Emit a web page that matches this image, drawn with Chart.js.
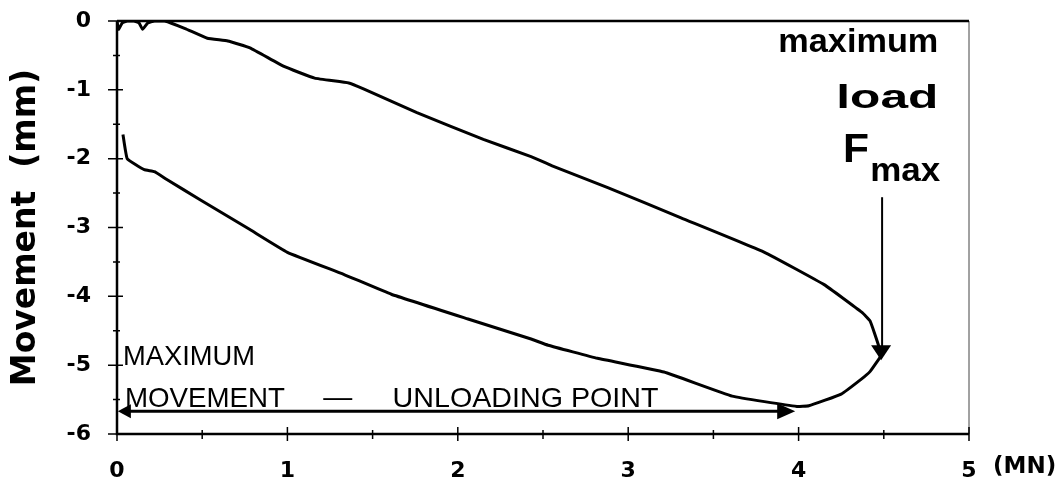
<!DOCTYPE html>
<html>
<head>
<meta charset="utf-8">
<script src="https://cdn.jsdelivr.net/npm/chart.js@4"></script>
<style>
  body { margin: 0; background: #fff; }
  canvas { display: block; }
</style>
</head>
<body>
<canvas id="loadChart" width="1063" height="480"></canvas>
<script>
// Data: load (MN) vs movement (mm)
const loadX = [0, 0.005, 0.01, 0.03, 0.06, 0.1, 0.13, 0.15, 0.18, 0.22, 0.28, 0.4, 0.53, 0.65, 0.78, 0.98, 1.16, 1.36, 1.45, 1.76, 2.15, 2.43, 2.55, 2.88, 3.31, 3.8, 4.15, 4.37, 4.42, 4.47, 4.48];
const loadY = [0, -0.08, -0.12, -0.03, 0, 0, -0.03, -0.12, -0.03, 0, 0, -0.11, -0.25, -0.29, -0.39, -0.66, -0.83, -0.9, -0.99, -1.33, -1.72, -1.97, -2.1, -2.42, -2.86, -3.36, -3.83, -4.23, -4.36, -4.72, -4.88];

const unloadX = [4.48, 4.42, 4.37, 4.25, 4.06, 3.99, 3.61, 3.21, 2.82, 2.53, 2.43, 2.06, 1.61, 1.33, 1.0, 0.78, 0.49, 0.29, 0.22, 0.16, 0.06, 0.035];
const unloadY = [-4.88, -5.09, -5.2, -5.42, -5.59, -5.6, -5.45, -5.1, -4.9, -4.71, -4.62, -4.33, -3.97, -3.68, -3.36, -3.03, -2.6, -2.3, -2.19, -2.16, -2.0, -1.65];

const xTicks = [0, 1, 2, 3, 4, 5];
const yTicks = [0, -1, -2, -3, -4, -5, -6];
const xMinor = [0.5, 1.5, 2.5, 3.5, 4.5];
const yMinor = [-0.5, -1.5, -2.5, -3.5, -4.5, -5.5];

// where the notes sit, in data units
const fmaxArrow = { x: 4.49, yFrom: -2.56, yTo: -4.93 };
const moveArrow = { y: -5.67, xFrom: 0.005, xTo: 3.98 };

function toPoints(xs, ys) {
  return xs.map((x, i) => ({ x: x, y: ys[i] }));
}

function drawText(ctx, str, x, y, font, align, width) {
  ctx.save();
  ctx.font = font;
  ctx.textBaseline = 'alphabetic';
  ctx.textAlign = 'left';
  const w = ctx.measureText(str).width;
  const sx = width ? width / w : 1;
  const left = align === 'right' ? x - w * sx : x;
  ctx.translate(left, y);
  ctx.scale(sx, 1);
  ctx.fillText(str, 0, 0);
  ctx.restore();
}

function arrowHead(ctx, tipX, tipY, dx, dy, len, half) {
  // dx,dy = unit direction of the arrow
  const bx = tipX - dx * len, by = tipY - dy * len;
  ctx.beginPath();
  ctx.moveTo(tipX, tipY);
  ctx.lineTo(bx - dy * half, by + dx * half);
  ctx.lineTo(bx + dy * half, by - dx * half);
  ctx.closePath();
  ctx.fill();
}

const frameNotes = {
  id: 'frameNotes',
  afterDatasetsDraw(chart) {
    const ctx = chart.ctx;
    const xs = chart.scales.x, ys = chart.scales.y;
    const a = chart.chartArea;
    ctx.save();
    ctx.fillStyle = '#000';

    // frame
    ctx.lineWidth = 1;
    ctx.strokeStyle = '#444';
    ctx.beginPath();
    ctx.moveTo(a.right, a.top);
    ctx.lineTo(a.right, a.bottom);
    ctx.stroke();
    ctx.strokeStyle = '#000';
    ctx.lineWidth = 2.5;
    ctx.beginPath();
    ctx.moveTo(a.left, a.top);
    ctx.lineTo(a.right, a.top);
    ctx.moveTo(a.left, a.top);
    ctx.lineTo(a.left, a.bottom);
    ctx.lineTo(a.right, a.bottom);
    ctx.stroke();

    // tick marks crossing the axes
    ctx.lineWidth = 1.5;
    ctx.beginPath();
    xTicks.forEach(v => {
      const p = xs.getPixelForValue(v);
      ctx.moveTo(p, a.bottom - 7); ctx.lineTo(p, a.bottom + 7);
    });
    xMinor.forEach(v => {
      const p = xs.getPixelForValue(v);
      ctx.moveTo(p, a.bottom - 4); ctx.lineTo(p, a.bottom + 5);
    });
    yTicks.forEach(v => {
      const p = ys.getPixelForValue(v);
      ctx.moveTo(a.left - 9, p); ctx.lineTo(a.left + 6, p);
    });
    yMinor.forEach(v => {
      const p = ys.getPixelForValue(v);
      ctx.moveTo(a.left - 4, p); ctx.lineTo(a.left + 3, p);
    });
    ctx.stroke();

    // F max arrow
    ctx.lineWidth = 2;
    const fx = xs.getPixelForValue(fmaxArrow.x);
    const fy1 = ys.getPixelForValue(fmaxArrow.yFrom);
    const fy2 = ys.getPixelForValue(fmaxArrow.yTo);
    ctx.beginPath();
    ctx.moveTo(fx, fy1);
    ctx.lineTo(fx, fy2 - 10);
    ctx.stroke();
    arrowHead(ctx, fx - 1, fy2, 0, 1, 15, 10);

    // maximum movement double arrow
    const my = ys.getPixelForValue(moveArrow.y);
    const mx1 = xs.getPixelForValue(moveArrow.xFrom);
    const mx2 = xs.getPixelForValue(moveArrow.xTo);
    ctx.lineWidth = 3;
    ctx.beginPath();
    ctx.moveTo(mx1 + 8, my);
    ctx.lineTo(mx2 - 10, my);
    ctx.stroke();
    arrowHead(ctx, mx1, my, -1, 0, 13, 7);
    arrowHead(ctx, mx2, my, 1, 0, 18, 8);

    // notes
    const bold = 'bold 34px "Liberation Sans", Arial, sans-serif';
    drawText(ctx, 'maximum', xs.getPixelForValue(4.82), ys.getPixelForValue(-0.45), bold, 'right', 160);
    drawText(ctx, 'load', xs.getPixelForValue(4.82), ys.getPixelForValue(-1.27), bold, 'right', 102);
    drawText(ctx, 'F', xs.getPixelForValue(4.26), ys.getPixelForValue(-2.05), 'bold 40px "Liberation Sans", Arial, sans-serif', 'left', 26);
    drawText(ctx, 'max', xs.getPixelForValue(4.42), ys.getPixelForValue(-2.32), bold, 'left', 70);

    const plain = '28px "Liberation Sans", Arial, sans-serif';
    drawText(ctx, 'MAXIMUM', xs.getPixelForValue(0.035), ys.getPixelForValue(-5.0), plain, 'left', 132);
    const ty = ys.getPixelForValue(-5.61);
    drawText(ctx, 'MOVEMENT', xs.getPixelForValue(0.047), ty, plain, 'left', 160);
    drawText(ctx, '\u2014', xs.getPixelForValue(1.21), ty - 1, plain, 'left', 29);
    drawText(ctx, 'UNLOADING POINT', xs.getPixelForValue(1.617), ty, plain, 'left', 266);

    // unit of the load axis
    ctx.font = 'bold 23px "DejaVu Sans", sans-serif';
    ctx.textAlign = 'left';
    ctx.textBaseline = 'middle';
    ctx.fillText('(MN)', a.right + 24, a.bottom + 33);
    ctx.restore();
  }
};

const tickFont = { family: '"DejaVu Sans", sans-serif', size: 22, weight: 'bold' };

// invisible tick marks only push the labels away from the axes
const hiddenGrid = len => ({
  display: true,
  drawOnChartArea: false,
  drawTicks: true,
  tickLength: len,
  color: 'rgba(0,0,0,0)'
});

const chart = new Chart(document.getElementById('loadChart'), {
  type: 'scatter',
  data: {
    datasets: [
      {
        label: 'Loading',
        data: toPoints(loadX, loadY),
        showLine: true,
        borderColor: '#000',
        borderWidth: 3,
        pointRadius: 0,
        tension: 0.1
      },
      {
        label: 'Unloading',
        data: toPoints(unloadX, unloadY),
        showLine: true,
        borderColor: '#000',
        borderWidth: 3,
        pointRadius: 0,
        tension: 0.1
      }
    ]
  },
  options: {
    responsive: false,
    animation: false,
    layout: { padding: { top: 21, right: 94, left: 0, bottom: 0 } },
    plugins: {
      legend: { display: false },
      tooltip: { enabled: false }
    },
    scales: {
      x: {
        type: 'linear',
        min: 0,
        max: 5,
        afterBuildTicks: s => { s.ticks = xTicks.map(v => ({ value: v })); },
        afterFit: s => { s.height = 46; },
        grid: hiddenGrid(24),
        border: { display: false },
        ticks: { color: '#000', font: tickFont, padding: 0, maxRotation: 0 }
      },
      y: {
        type: 'linear',
        min: -6,
        max: 0,
        afterBuildTicks: s => { s.ticks = yTicks.map(v => ({ value: v })); },
        afterFit: s => { s.width = 117; },
        grid: hiddenGrid(26),
        border: { display: false },
        ticks: { color: '#000', font: tickFont, padding: 0 },
        title: {
          display: true,
          text: 'Movement  (mm)',
          color: '#000',
          font: { family: '"DejaVu Sans", sans-serif', size: 33, weight: 'bold' },
          padding: { top: 7, bottom: 0 }
        }
      }
    }
  },
  plugins: [frameNotes]
});
</script>
</body>
</html>
